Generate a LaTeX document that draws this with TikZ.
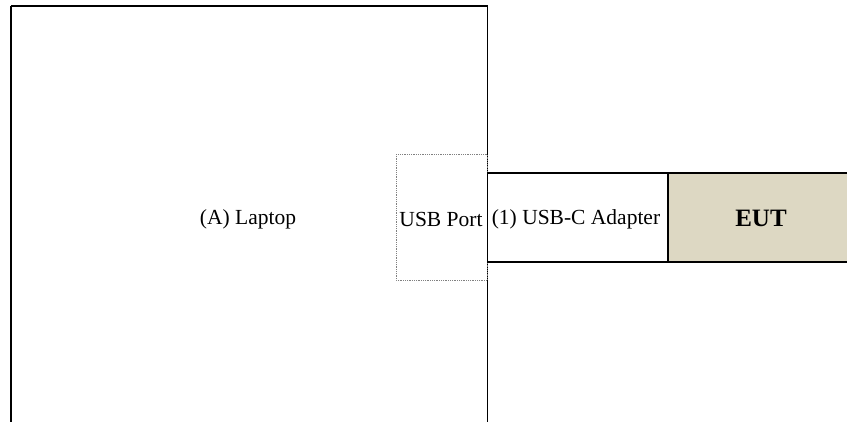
\documentclass[tikz,border=0pt]{standalone}
\usepackage{fontspec}
\setmainfont{Liberation Serif}
\definecolor{eutfill}{HTML}{DDD8C3}
\begin{document}
\begin{tikzpicture}[x=1pt,y=-1pt,
  box/.style={draw=black,line width=1.4pt},
  lbl/.style={font=\fontsize{21.5}{24}\selectfont,inner sep=0pt}]
\useasboundingbox (0,0) rectangle (847,421);
\begin{scope}
\clip (0,0) rectangle (847,421);
\draw[box] (11,6) -- (11,440) (11,6) -- (487.5,6) -- (487.5,440);
\node[lbl] (laptop) at (248,219) {(A) Laptop};
\draw[densely dotted,gray,line width=0.8pt] (396,154) rectangle (487.5,280);
\node[lbl] (usb) at (441,219) {USB Port};
\draw[line width=1.2pt] (487.5,173) rectangle (668,262);
\node[lbl] (adapter) at (576,219) {(1) USB-C Adapter};
\fill[eutfill] (668,173) rectangle (860,262);
\draw[line width=1.2pt] (860,173) -- (668,173) -- (668,262) -- (860,262);
\draw[line width=1.6pt] (668,173) -- (668,262);
\node[lbl,font=\fontsize{25}{28}\selectfont\bfseries] (eut) at (761,218) {EUT};
\end{scope}
\end{tikzpicture}
\end{document}
